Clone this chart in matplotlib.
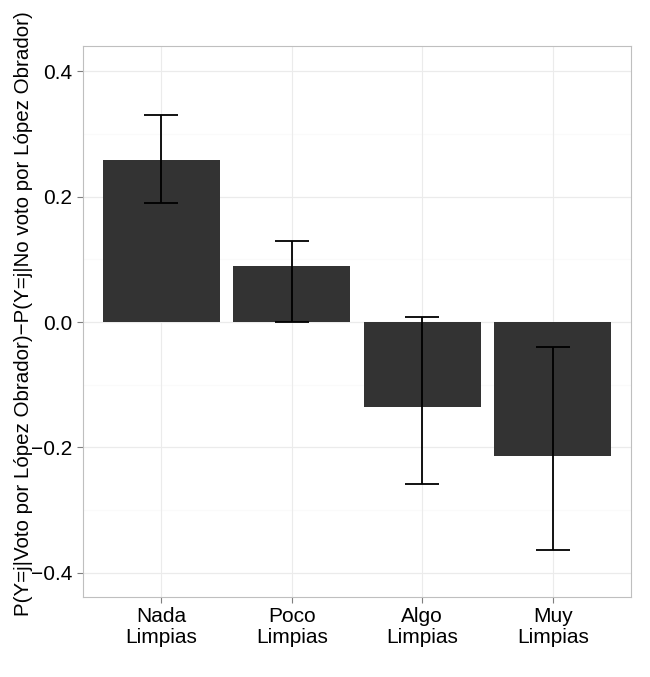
import matplotlib
matplotlib.use("Agg")
import matplotlib.pyplot as plt
import numpy as np

categories = ["Nada\nLimpias", "Poco\nLimpias", "Algo\nLimpias", "Muy\nLimpias"]
diff = [0.258, 0.090, -0.136, -0.214]
lower = [0.190, 0.000, -0.259, -0.364]
upper = [0.331, 0.129, 0.008, -0.040]
yticks = [-0.4, -0.2, 0.0, 0.2, 0.4]
ylabel = "P(Y=j|Voto por López Obrador)\u2212P(Y=j|No voto por López Obrador)"

plt.rcParams['font.family'] = ['Liberation Sans', 'DejaVu Sans']

fig = plt.figure(figsize=(6.5, 6.77), dpi=100)
ax = fig.add_axes([83/650, 1 - 596.5/677, 548/650, 551/677])

x = np.arange(1, len(categories) + 1)

# grid like theme_bw
for v in np.arange(-0.5, 0.5, 0.1):
    ax.axhline(v, color="#fafafa", lw=0.8, zorder=0)
for v in yticks:
    ax.axhline(v, color="#ebebeb", lw=0.8, zorder=0)
for v in x:
    ax.axvline(v, color="#ebebeb", lw=0.8, zorder=0)

ax.bar(x, diff, width=0.9, color="#333333", zorder=2)
err = [np.array(diff) - np.array(lower), np.array(upper) - np.array(diff)]
ax.errorbar(x, diff, yerr=err, fmt="none", ecolor="black", elinewidth=1.3,
            capsize=12, capthick=1.3, zorder=3)

ax.set_xlim(0.4, 4.6)
ax.set_ylim(-0.438, 0.4415)
ax.set_xticks(x)
ax.set_xticklabels(categories, fontsize=15, ha="center", multialignment="center",
                   linespacing=1.15)
ax.set_yticks(yticks)
ax.set_yticklabels([("%.1f" % v).replace("-", "\u2212") for v in yticks], fontsize=15)
ax.tick_params(color="#7f7f7f", length=4, width=0.8, labelcolor="black")
for s in ax.spines.values():
    s.set_color("#bfbfbf")
    s.set_linewidth(0.8)
ax.set_ylabel(ylabel, fontsize=14.8)
ax.yaxis.set_label_coords(-0.0912, 0.5136)

fig.savefig("out.png", dpi=100)
